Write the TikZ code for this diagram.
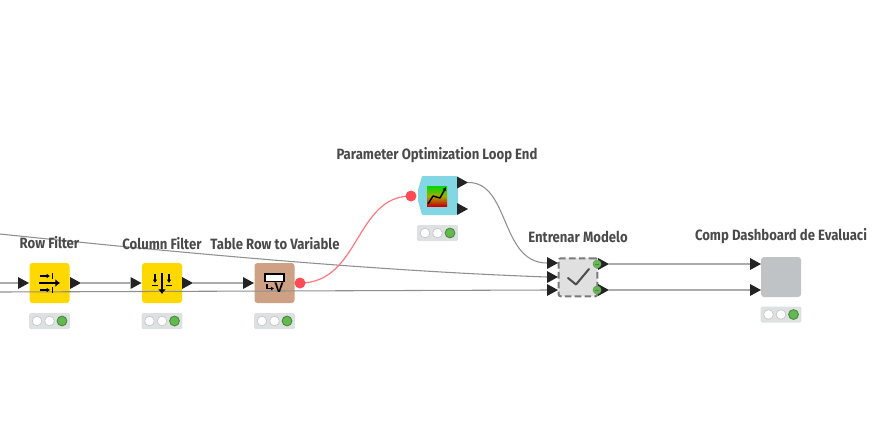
\documentclass[tikz,border=0pt]{standalone}
\usepackage{fontspec}
\setmainfont{Liberation Sans}
\newfontfamily\labelfont[FakeStretch=0.88]{Fira Sans}
\usetikzlibrary{positioning,arrows.meta}
\definecolor{txt}{HTML}{4A4A4A}
\definecolor{wire}{HTML}{8F8F8F}
\definecolor{wirelight}{HTML}{ABABAB}
\definecolor{darkport}{HTML}{232323}
\definecolor{yel}{HTML}{FFD800}
\definecolor{tanbox}{HTML}{CFA184}
\definecolor{cyanbox}{HTML}{83D6E3}
\definecolor{graybox}{HTML}{C0C3C6}
\definecolor{statbg}{HTML}{DEE1E1}
\definecolor{grn}{HTML}{63B84F}
\definecolor{grnd}{HTML}{4C8C40}
\definecolor{flow}{HTML}{FF4B55}
\tikzset{
  x=0.75pt,y=-0.75pt,
  lab/.style={text=txt,font=\labelfont\bfseries\fontsize{11.2}{13}\selectfont,inner sep=0pt,anchor=center},
  box/.style={rounded corners=2.2pt,minimum width=30pt,minimum height=30pt,inner sep=0pt,anchor=center},
  wire line/.style={draw=wire,line width=0.8pt},
  short wire/.style={draw=wirelight,line width=0.9pt},
  flow line/.style={draw=flow!75,line width=0.9pt},
  tri/.style={fill=darkport,draw=none},
  ic/.style={black,line width=1.1pt},
}
\newcommand{\porttri}[2]{\fill[tri] (#1,#2-6) -- (#1+11,#2) -- (#1,#2+6) -- cycle;}
\newcommand{\statlight}[3]{%
  \node[fill=statbg,rounded corners=1pt,minimum width=30.5pt,minimum height=12pt,inner sep=0pt] (#3) at (#1,#2) {};
  \fill[white,draw=black!22,line width=0.5pt] (#1-12.5,#2) circle (4.8);
  \fill[white,draw=black!22,line width=0.5pt] (#1,#2) circle (4.8);
  \fill[grn,draw=grnd,line width=0.7pt] (#1+12.5,#2) circle (4.9);
}
\begin{document}
\begin{tikzpicture}
\useasboundingbox (0,0) rectangle (873,440);
% free wire ends
\coordinate (inA) at (0,283);
\coordinate (inB) at (0,292);
\coordinate (inC) at (0,234);
% nodes
\node[box,fill=yel] (row) at (49.5,283) {};
\node[box,fill=yel] (col) at (162,283) {};
\node[box,fill=tanbox] (tab) at (274.5,283) {};
\node[box,fill=graybox] (comp) at (781,277) {};
\fill[cyanbox,rounded corners=0.6pt] (422,176) -- (457,176) -- (458,179) -- (458,212) -- (457,215) -- (422,215) -- (418,201) -- (418,190) -- cycle;
\node[minimum width=29pt,minimum height=28.5pt,inner sep=0pt,fill=black!12,draw=black!52,dash pattern=on 5pt off 2.4pt,line width=1.5pt,rounded corners=1.5pt] (ent) at (578,277.3) {};
% wire ends
\coordinate (rowin) at (18,283);
\coordinate (rowout) at (81,283);
\coordinate (colin) at (130,283);
\coordinate (colout) at (193,283);
\coordinate (tabin) at (243,283);
\coordinate (tabout) at (300,283);
\coordinate (parin) at (411,196);
\coordinate (parout) at (468,182.5);
\coordinate (entA) at (547,263);
\coordinate (entB) at (547,277);
\coordinate (entC) at (547,290);
\coordinate (entO) at (609,264);
\coordinate (entP) at (609,290);
\coordinate (compA) at (750,264);
\coordinate (compB) at (750,290);
\draw[short wire] (inA) -- (rowin);
\draw[short wire] (rowout) -- (colin);
\draw[short wire] (colout) -- (tabin);
\draw[wire line] (inB) -- (entC);
\draw[wire line] (inC) .. controls (190,254) and (380,271) .. (entB);
\draw[wire line] (parout) .. controls (510,182) and (500,263) .. (entA);
\draw[short wire] (entO) -- (compA);
\draw[short wire] (entP) -- (compB);
\draw[flow line] (tabout) .. controls (360,283) and (355,196) .. (parin);
% ports
\porttri{18}{283}
\porttri{70}{283}
\porttri{130.5}{283}
\porttri{182}{283}
\porttri{243}{283}
\fill[flow] (tabout) circle (5.5);
\fill[flow] (parin) circle (5.5);
\porttri{457}{182.5}
\porttri{457}{209}
\porttri{547}{263}
\porttri{547}{277}
\porttri{547}{290}
\porttri{598}{264}
\porttri{598}{290}
\porttri{750}{264}
\porttri{750}{290}
\fill[grn,draw=grnd!80,line width=0.5pt] (597,264) circle (4);
\fill[grn,draw=grnd!80,line width=0.5pt] (597,290) circle (4);
\draw[grnd,line width=0.6pt] (595,264) -- (599,264) (595,290) -- (599,290);
% row filter icon
\draw[ic,line width=1.5pt,-{Latex[length=3.5pt,width=6pt]}] (39,283) -- (60,283);
\draw[ic,-{Latex[length=2.5pt,width=3.5pt]}] (39.5,276) -- (50,276);
\draw[ic] (52.5,273) -- (52.5,279);
\draw[ic,-{Latex[length=2.5pt,width=3.5pt]}] (39.5,290) -- (50,290);
\draw[ic] (52.5,287) -- (52.5,293);
% column filter icon
\draw[ic,line width=1.5pt,-{Latex[length=3.5pt,width=6pt]}] (162,273) -- (162,294);
\draw[ic,-{Latex[length=2.5pt,width=3.5pt]}] (155,274) -- (155,283);
\draw[ic] (152,285.5) -- (158,285.5);
\draw[ic,-{Latex[length=2.5pt,width=3.5pt]}] (169,274) -- (169,283);
\draw[ic] (166,285.5) -- (172,285.5);
% table row icon
\draw[black,line width=1pt,fill=white] (265,274) rectangle (284,281.5);
\draw[black,line width=1.6pt] (265,274) -- (284,274);
\draw[ic,-{Latex[length=2.2pt,width=3pt]}] (267,284) -- (267,288.5) -- (274,288.5);
\node[inner sep=0pt,text=black,font=\fontsize{10.5}{10}\selectfont\bfseries] (vv) at (279,288) {V};
% parameter icon
\shade[top color=green!85!black,bottom color=red!80!black,middle color=orange!65!green] (427,186) rectangle (447,206);
\draw[black,line width=1.1pt,line join=round,-{Latex[length=2.5pt,width=3pt]}] (428,204) -- (433,196) -- (440,198) -- (446,187);
% check icon
\draw[black!70,line width=1.5pt,line cap=round,line join=round] (568,278) -- (576,284.5) -- (589,269);
% status lights
\statlight{49.5}{321}{s1}
\statlight{162}{321}{s2}
\statlight{274.5}{321}{s3}
\statlight{437.5}{233}{s4}
\statlight{781}{314.5}{s5}
% labels
\node[lab] (lrow) at (49.5,243) {Row Filter};
\node[lab] (lcol) at (162,243.5) {Column Filter};
\node[lab] (ltab) at (275,243.5) {Table Row to Variable};
\node[lab] (lpar) at (437,155.5) {Parameter Optimization Loop End};
\node[lab] (lent) at (578,237) {Entrenar Modelo};
\node[lab] (lcomp) at (781,236.5) {Comp Dashboard de Evaluaci};
\end{tikzpicture}
\end{document}
